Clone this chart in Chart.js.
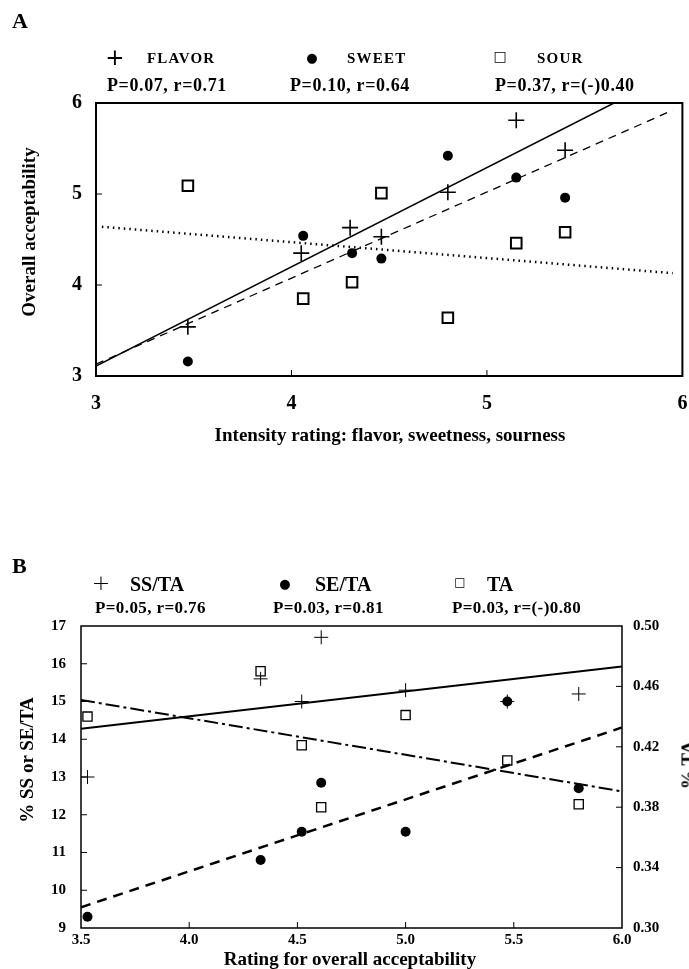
<!DOCTYPE html>
<html>
<head>
<meta charset="utf-8">
<script src="https://cdn.jsdelivr.net/npm/chart.js@4.4.1/dist/chart.umd.min.js"></script>
<style>
  html, body { margin:0; padding:0; background:#fff; }
  body { width:689px; height:969px; position:relative; overflow:hidden; font-family:"Liberation Serif","Times New Roman",serif; font-weight:bold; color:#000; }
  canvas { position:absolute; left:0; }
  .t { position:absolute; white-space:nowrap; transform:translateY(-50%); line-height:1; }
  .c { position:absolute; white-space:nowrap; transform:translate(-50%,-50%); line-height:1; }
  .r { position:absolute; white-space:nowrap; transform:translate(-50%,-50%) rotate(-90deg); line-height:1; }
  .sym { font-family:"DejaVu Sans", sans-serif; font-weight:normal; }
</style>
</head>
<body>
<canvas id="ca" width="692" height="460" style="top:0"></canvas>
<canvas id="cb" width="689" height="499" style="top:470px"></canvas>

<div class="t" style="left:12px;top:21px;font-size:22px;">A</div>
<div class="c sym" style="left:115px;top:57px;font-size:23px;">+</div>
<div class="t" style="left:147px;top:58px;font-size:15px;letter-spacing:1.2px;">FLAVOR</div>
<div class="c sym" style="left:312px;top:57px;font-size:13px;">●</div>
<div class="t" style="left:347px;top:58px;font-size:15px;letter-spacing:1.2px;">SWEET</div>
<div class="c sym" style="left:500px;top:56px;font-size:14px;">□</div>
<div class="t" style="left:537px;top:58px;font-size:15px;letter-spacing:1.2px;">SOUR</div>
<div class="t" style="left:107px;top:85px;font-size:18px;letter-spacing:0.6px;">P=0.07, r=0.71</div>
<div class="t" style="left:290px;top:85px;font-size:18px;letter-spacing:0.6px;">P=0.10, r=0.64</div>
<div class="t" style="left:495px;top:85px;font-size:18px;letter-spacing:0.6px;">P=0.37, r=(-)0.40</div>
<div class="r" style="left:28px;top:232px;font-size:19px;">Overall acceptability</div>
<div class="c" style="left:390px;top:434px;font-size:19px;">Intensity rating: flavor, sweetness, sourness</div>

<div class="t" style="left:12px;top:566px;font-size:22px;">B</div>
<div class="c sym" style="left:101px;top:583px;font-size:22px;font-weight:200;">+</div>
<div class="t" style="left:130px;top:584px;font-size:20px;">SS/TA</div>
<div class="c sym" style="left:285px;top:583px;font-size:13px;">●</div>
<div class="t" style="left:315px;top:584px;font-size:20px;">SE/TA</div>
<div class="c sym" style="left:460px;top:582px;font-size:12px;">□</div>
<div class="t" style="left:487px;top:584px;font-size:20px;">TA</div>
<div class="t" style="left:95px;top:607px;font-size:17px;letter-spacing:0.4px;">P=0.05, r=0.76</div>
<div class="t" style="left:273px;top:607px;font-size:17px;letter-spacing:0.4px;">P=0.03, r=0.81</div>
<div class="t" style="left:452px;top:607px;font-size:17px;letter-spacing:0.4px;">P=0.03, r=(-)0.80</div>
<div class="r" style="left:26px;top:760px;font-size:19px;">% SS or SE/TA</div>
<div class="r" style="left:688px;top:765px;font-size:19px;">% TA</div>
<div class="c" style="left:350px;top:958px;font-size:19px;">Rating for overall acceptability</div>

<script>
// ---------- Panel A data ----------
const flavorX = [3.47, 4.05, 4.30, 4.46, 4.80, 5.15, 5.40];
const flavorY = [3.54, 4.35, 4.63, 4.53, 5.02, 5.81, 5.48];
const sweetX  = [3.47, 4.06, 4.31, 4.46, 4.80, 5.15, 5.40];
const sweetY  = [3.16, 4.54, 4.35, 4.29, 5.42, 5.18, 4.96];
const sourX   = [3.47, 4.06, 4.31, 4.46, 4.80, 5.15, 5.40];
const sourY   = [5.09, 3.85, 4.03, 5.01, 3.64, 4.46, 4.58];
const flavorFitX = [3.0, 5.65];
const flavorFitY = [3.11, 6.0];
const sweetFitX  = [3.0, 5.95];
const sweetFitY  = [3.13, 5.92];
const sourFitX   = [3.03, 5.95];
const sourFitY   = [4.64, 4.13];
const aXTicks = [3, 4, 5, 6];
const aYTicks = [3, 4, 5, 6];

// ---------- Panel B data ----------
const accX   = [3.53, 4.33, 4.52, 4.61, 5.00, 5.47, 5.80];
const ssta   = [13.0, 15.6, 15.0, 16.7, 15.3, 15.0, 15.2];
const seta   = [9.3, 10.8, 11.55, 12.85, 11.55, 15.0, 12.7];
const ta     = [0.440, 0.470, 0.421, 0.380, 0.441, 0.411, 0.382];
const sstaFitX = [3.5, 6.0];
const sstaFitY = [14.28, 15.93];
const setaFitX = [3.5, 6.0];
const setaFitY = [9.55, 14.31];
const taFitX   = [3.5, 6.0];
const taFitY   = [0.451, 0.3905];
const bXTicks  = [3.5, 4.0, 4.5, 5.0, 5.5, 6.0];
const bYTicks  = [9, 10, 11, 12, 13, 14, 15, 16, 17];
const bY2Ticks = [0.30, 0.34, 0.38, 0.42, 0.46, 0.50];

const pts = (xs, ys) => xs.map((x, i) => ({x, y: ys[i]}));
const FONT = '"Liberation Serif","Times New Roman",serif';

function frame(lw, tickLen) {
  return {
    id: 'frame',
    afterDatasetsDraw(chart) {
      const {ctx, chartArea: a, scales} = chart;
      ctx.save();
      ctx.strokeStyle = '#000';
      ctx.lineWidth = lw;
      ctx.strokeRect(a.left, a.top, a.right - a.left, a.bottom - a.top);
      ctx.lineWidth = 1;
      ctx.beginPath();
      for (const id of Object.keys(scales)) {
        const s = scales[id];
        for (const t of s.ticks) {
          const p = s.getPixelForValue(t.value);
          if (s.isHorizontal()) {
            if (p <= a.left + 2 || p >= a.right - 2) continue;
            ctx.moveTo(p, a.bottom); ctx.lineTo(p, a.bottom - tickLen);
          } else if (s.position === 'left') {
            if (p <= a.top + 2 || p >= a.bottom - 2) continue;
            ctx.moveTo(a.left, p); ctx.lineTo(a.left + tickLen, p);
          } else {
            if (p <= a.top + 2 || p >= a.bottom - 2) continue;
            ctx.moveTo(a.right, p); ctx.lineTo(a.right - tickLen, p);
          }
        }
      }
      ctx.stroke();
      ctx.restore();
    }
  };
}

function fixTicks(list) {
  return function(scale) { scale.ticks = list.map(v => ({value: v})); };
}
const noGrid = {display: false, drawTicks: false, tickLength: 0};

// ---------- Chart A ----------
new Chart(document.getElementById('ca'), {
  type: 'scatter',
  data: {
    datasets: [
      {data: pts(flavorFitX, flavorFitY), showLine: true, pointRadius: 0, borderColor: '#000', borderWidth: 1.5},
      {data: pts(sweetFitX, sweetFitY), showLine: true, pointRadius: 0, borderColor: '#000', borderWidth: 1.3, borderDash: [8, 6]},
      {data: pts(sourFitX, sourFitY), showLine: true, pointRadius: 0, borderColor: '#000', borderWidth: 2.5, borderDash: [1.5, 4]},
      {data: pts(flavorX, flavorY), pointStyle: 'cross', pointRadius: 8, borderColor: '#000', borderWidth: 1.6},
      {data: pts(sweetX, sweetY), pointStyle: 'circle', pointRadius: 5, backgroundColor: '#000', borderColor: '#000', borderWidth: 0},
      {data: pts(sourX, sourY), pointStyle: 'rect', pointRadius: 7.5, backgroundColor: '#fff', borderColor: '#000', borderWidth: 2}
    ]
  },
  options: {
    responsive: false, animation: false, devicePixelRatio: 1,
    layout: {padding: {top: 103, right: 3, left: 0, bottom: 0}},
    plugins: {legend: {display: false}, tooltip: {enabled: false}},
    scales: {
      x: {type: 'linear', min: 3, max: 6, afterBuildTicks: fixTicks(aXTicks),
          grid: noGrid, border: {display: false},
          ticks: {color: '#000', padding: 16, font: {family: FONT, size: 20, weight: 'bold'}},
          afterFit(s) { s.height = 84; s.paddingLeft = 0; s.paddingRight = 0; }},
      y: {type: 'linear', min: 3, max: 6, afterBuildTicks: fixTicks(aYTicks),
          grid: noGrid, border: {display: false},
          ticks: {color: '#000', padding: 14, font: {family: FONT, size: 20, weight: 'bold'}},
          afterFit(s) { s.width = 96; s.paddingTop = 0; s.paddingBottom = 0; }}
    }
  },
  plugins: [frame(2, 6)]
});

// ---------- Chart B ----------
new Chart(document.getElementById('cb'), {
  type: 'scatter',
  data: {
    datasets: [
      {data: pts(sstaFitX, sstaFitY), yAxisID: 'y', showLine: true, pointRadius: 0, borderColor: '#000', borderWidth: 2},
      {data: pts(setaFitX, setaFitY), yAxisID: 'y', showLine: true, pointRadius: 0, borderColor: '#000', borderWidth: 2.5, borderDash: [10, 7]},
      {data: pts(taFitX, taFitY), yAxisID: 'y2', showLine: true, pointRadius: 0, borderColor: '#000', borderWidth: 2, borderDash: [14, 4, 3, 4]},
      {data: pts(accX, ssta), yAxisID: 'y', pointStyle: 'cross', pointRadius: 7, borderColor: '#000', borderWidth: 1},
      {data: pts(accX, seta), yAxisID: 'y', pointStyle: 'circle', pointRadius: 5, backgroundColor: '#000', borderColor: '#000', borderWidth: 0},
      {data: pts(accX, ta), yAxisID: 'y2', pointStyle: 'rect', pointRadius: 6.5, backgroundColor: '#fff', borderColor: '#000', borderWidth: 1.3}
    ]
  },
  options: {
    responsive: false, animation: false, devicePixelRatio: 1,
    layout: {padding: {top: 156, right: 0, left: 0, bottom: 0}},
    plugins: {legend: {display: false}, tooltip: {enabled: false}},
    scales: {
      x: {type: 'linear', min: 3.5, max: 6.0, afterBuildTicks: fixTicks(bXTicks),
          grid: noGrid, border: {display: false},
          ticks: {color: '#000', padding: 3, font: {family: FONT, size: 15, weight: 'bold'}, callback: v => v.toFixed(1)},
          afterFit(s) { s.height = 41; s.paddingLeft = 0; s.paddingRight = 0; }},
      y: {type: 'linear', position: 'left', min: 9, max: 17, afterBuildTicks: fixTicks(bYTicks),
          grid: noGrid, border: {display: false},
          ticks: {color: '#000', padding: 15, font: {family: FONT, size: 15, weight: 'bold'}},
          afterFit(s) { s.width = 81; s.paddingTop = 0; s.paddingBottom = 0; }},
      y2: {type: 'linear', position: 'right', min: 0.30, max: 0.50, afterBuildTicks: fixTicks(bY2Ticks),
          grid: noGrid, border: {display: false},
          ticks: {color: '#000', padding: 11, font: {family: FONT, size: 15, weight: 'bold'}, callback: v => v.toFixed(2)},
          afterFit(s) { s.width = 67; s.paddingTop = 0; s.paddingBottom = 0; }}
    }
  },
  plugins: [frame(1.5, 6)]
});
</script>
</body>
</html>
